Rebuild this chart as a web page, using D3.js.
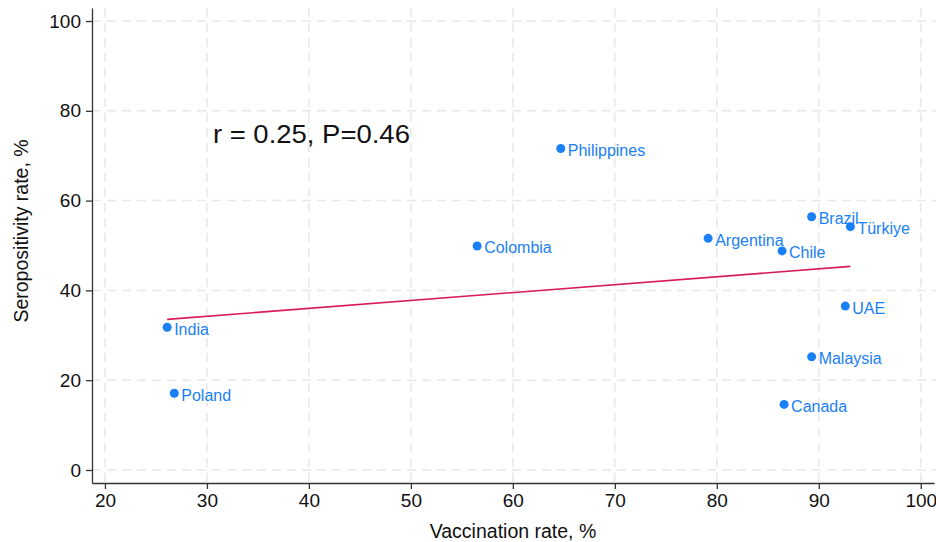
<!DOCTYPE html>
<html>
<head>
<meta charset="utf-8">
<script src="https://cdn.jsdelivr.net/npm/d3@7"></script>
<style>
  body { margin: 0; background: #fff; }
  svg { display: block; font-family: 'Liberation Sans', Arial, Helvetica, sans-serif; }
  .grid line { stroke: #e8e8e8; stroke-width: 1.5; stroke-dasharray: 9 6; }
  .axis path, .axis line { stroke: #333; stroke-width: 1.3; }
  .axis text { fill: #111; font-size: 19px; }
  .label { fill: #1a80f5; font-size: 16px; }
</style>
</head>
<body>
<svg id="chart" width="936" height="542"></svg>
<script>
const countries = ['India', 'Poland', 'Colombia', 'Philippines', 'Argentina', 'Chile', 'Brazil', 'Türkiye', 'UAE', 'Malaysia', 'Canada'];
const vaccination = [26.1, 26.8, 56.5, 64.7, 79.15, 86.4, 89.3, 93.1, 92.6, 89.3, 86.6];
const seropositivity = [31.8, 17.1, 49.9, 71.6, 51.6, 48.8, 56.4, 54.2, 36.5, 25.2, 14.6];
const xTicks = [20, 30, 40, 50, 60, 70, 80, 90, 100];
const yTicks = [0, 20, 40, 60, 80, 100];

const data = countries.map((c, i) => ({ name: c, x: vaccination[i], y: seropositivity[i] }));

const svg = d3.select('#chart');
const margin = { top: 8, right: 2, bottom: 59, left: 92 };
const width = 936;
const height = 542;

const x = d3
  .scaleLinear()
  .domain([18.73, 101.3])
  .range([margin.left, width - margin.right]);

const y = d3
  .scaleLinear()
  .domain([-2.9, 102.9])
  .range([height - margin.bottom, margin.top]);

// dashed grid
svg
  .append('g')
  .attr('class', 'grid')
  .selectAll('line.h')
  .data(yTicks)
  .enter()
  .append('line')
  .attr('x1', margin.left)
  .attr('x2', width)
  .attr('y1', (d) => y(d))
  .attr('y2', (d) => y(d));

svg
  .select('.grid')
  .selectAll('line.v')
  .data(xTicks)
  .enter()
  .append('line')
  .attr('x1', (d) => x(d))
  .attr('x2', (d) => x(d))
  .attr('y1', margin.top)
  .attr('y2', height - margin.bottom);

// axes
svg
  .append('g')
  .attr('class', 'axis')
  .attr('transform', `translate(0, ${height - margin.bottom})`)
  .call(d3.axisBottom(x).tickValues(xTicks).tickSize(6).tickSizeOuter(0).tickPadding(5));

svg
  .append('g')
  .attr('class', 'axis')
  .attr('transform', `translate(${margin.left}, 0)`)
  .call(d3.axisLeft(y).tickValues(yTicks).tickSize(6).tickSizeOuter(0).tickPadding(5));

// least squares fit
const mx = d3.mean(vaccination);
const my = d3.mean(seropositivity);
const slope =
  d3.sum(data, (d) => (d.x - mx) * (d.y - my)) / d3.sum(data, (d) => (d.x - mx) * (d.x - mx));
const intercept = my - slope * mx;
const xExt = d3.extent(vaccination);

svg
  .append('path')
  .datum(xExt)
  .attr('fill', 'none')
  .attr('stroke', '#d81b5a')
  .attr('stroke-width', 1.6)
  .attr(
    'd',
    d3
      .line()
      .x((d) => x(d))
      .y((d) => y(intercept + slope * d))
  );

// points and labels
const pts = svg.append('g').selectAll('g').data(data).enter().append('g');

pts
  .append('circle')
  .attr('cx', (d) => x(d.x))
  .attr('cy', (d) => y(d.y))
  .attr('r', 4.5)
  .attr('fill', '#1a80f5');

pts
  .append('text')
  .attr('class', 'label')
  .attr('x', (d) => x(d.x) + 7)
  .attr('y', (d) => y(d.y) + 7.5)
  .text((d) => d.name);

// annotation
svg
  .append('text')
  .attr('x', x(30) + 6)
  .attr('y', y(75) + 10)
  .attr('font-size', 26)
  .attr('textLength', 197)
  .attr('lengthAdjust', 'spacingAndGlyphs')
  .attr('fill', '#111')
  .text('r = 0.25, P=0.46');

// axis titles
svg
  .append('text')
  .attr('x', 513)
  .attr('y', 538)
  .attr('text-anchor', 'middle')
  .attr('font-size', 19.5)
  .attr('fill', '#111')
  .text('Vaccination rate, %');

svg
  .append('text')
  .attr('transform', 'translate(28, 231) rotate(-90)')
  .attr('text-anchor', 'middle')
  .attr('font-size', 19.5)
  .attr('fill', '#111')
  .text('Seropositivity rate, %');
</script>
</body>
</html>
